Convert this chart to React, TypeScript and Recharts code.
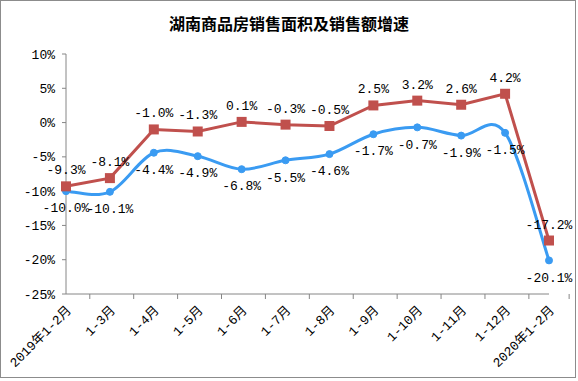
import React from "react";
import { LabelList, Line, LineChart, XAxis, YAxis } from "recharts";

const months = [
  "2019年1-2月",
  "1-3月",
  "1-4月",
  "1-5月",
  "1-6月",
  "1-7月",
  "1-8月",
  "1-9月",
  "1-10月",
  "1-11月",
  "1-12月",
  "2020年1-2月",
];
const areaGrowth = [-10.0, -10.1, -4.4, -4.9, -6.8, -5.5, -4.6, -1.7, -0.7, -1.9, -1.5, -20.1];
const salesGrowth = [-9.3, -8.1, -1.0, -1.3, 0.1, -0.3, -0.5, 2.5, 3.2, 2.6, 4.2, -17.2];
const yTicks = [10, 5, 0, -5, -10, -15, -20, -25];

const data = months.map((month, i) => ({
  month,
  area: areaGrowth[i],
  sales: salesGrowth[i],
}));

const W = 578;
const H = 381;
const M = { top: 54, right: 29, bottom: 8, left: 0 };
const Y_W = 66;
const BAND = (W - M.left - M.right - Y_W) / months.length;
const MONO = '"Liberation Mono", "Noto Sans CJK SC", monospace';
const AXIS = "#868686";

// excel-ish smoothing (catmull-rom through the points)
const smooth = (ctx: any) => {
  let pts: number[][] = [];
  return {
    areaStart() {},
    areaEnd() {},
    lineStart() {
      pts = [];
    },
    point(x: number, y: number) {
      pts.push([x, y]);
    },
    lineEnd() {
      if (!pts.length) return;
      ctx.moveTo(pts[0][0], pts[0][1]);
      for (let i = 0; i < pts.length - 1; i++) {
        const p0 = pts[i - 1] || pts[i];
        const p1 = pts[i];
        const p2 = pts[i + 1];
        const p3 = pts[i + 2] || p2;
        ctx.bezierCurveTo(
          p1[0] + (p2[0] - p0[0]) / 6,
          p1[1] + (p2[1] - p0[1]) / 6,
          p2[0] - (p3[0] - p1[0]) / 6,
          p2[1] - (p3[1] - p1[1]) / 6,
          p2[0],
          p2[1]
        );
      }
    },
  };
};

function MonthTick(props: any) {
  const { x, y, payload, index } = props;
  const left = x - BAND / 2;
  const ax = x + 6;
  const ay = y + 12;
  return (
    <g>
      <line x1={left} y1={y - 5} x2={left} y2={y} stroke={AXIS} />
      {index === months.length - 1 && (
        <line x1={left + BAND} y1={y - 5} x2={left + BAND} y2={y} stroke={AXIS} />
      )}
      <text
        x={ax}
        y={ay}
        textAnchor="end"
        transform={`rotate(-45, ${ax}, ${ay})`}
        fontSize={13}
        fontFamily={MONO}
        fill="#000"
      >
        {payload.value}
      </text>
    </g>
  );
}

function Square(props: any) {
  const { cx, cy } = props;
  if (cx == null || cy == null) return null;
  return <rect x={cx - 5} y={cy - 5} width={10} height={10} fill="#C0504D" />;
}

export default function App() {
  return (
    <div style={{ position: "absolute", left: 0, top: 0, width: W, height: H, background: "#fff" }}>
      <div
        style={{
          position: "absolute",
          left: 0,
          top: 0,
          width: 576,
          height: 378,
          border: "1px solid #8c8c8c",
          boxSizing: "border-box",
        }}
      />
      <div
        style={{
          position: "absolute",
          left: 0,
          top: 11,
          width: W,
          textAlign: "center",
          fontFamily: '"Noto Sans CJK SC", sans-serif',
          fontWeight: 700,
          fontSize: 16,
          color: "#000",
        }}
      >
        湖南商品房销售面积及销售额增速
      </div>
      <div style={{ position: "absolute", left: 0, top: 0 }}>
        <LineChart width={W} height={H} data={data} margin={M}>
          <XAxis
            dataKey="month"
            interval={0}
            height={H - M.top - M.bottom - 240}
            axisLine={{ stroke: AXIS }}
            tickLine={false}
            tickSize={5}
            tickMargin={0}
            tick={<MonthTick />}
          />
          <YAxis
            width={Y_W}
            domain={[-25, 10]}
            ticks={yTicks}
            interval={0}
            axisLine={{ stroke: AXIS }}
            tickLine={{ stroke: AXIS }}
            tickSize={4}
            tickMargin={7}
            tickFormatter={(v) => `${v}%`}
            tick={{ fill: "#000", fontSize: 13, fontFamily: MONO }}
          />
          <Line
            dataKey="area"
            type={smooth as any}
            stroke="#3A9BF2"
            strokeWidth={3}
            dot={{ r: 3.5, fill: "#3A9BF2", stroke: "#3A9BF2", strokeWidth: 1 }}
            isAnimationActive={false}
          >
            <LabelList
              dataKey="area"
              position="bottom"
              offset={12}
              formatter={(v: any) => `${Number(v).toFixed(1)}%`}
              style={{ fill: "#000", fontSize: 13, fontFamily: MONO }}
            />
          </Line>
          <Line
            dataKey="sales"
            type="linear"
            stroke="#C0504D"
            strokeWidth={3}
            dot={<Square />}
            isAnimationActive={false}
          >
            <LabelList
              dataKey="sales"
              position="top"
              offset={12}
              formatter={(v: any) => `${Number(v).toFixed(1)}%`}
              style={{ fill: "#000", fontSize: 13, fontFamily: MONO }}
            />
          </Line>
        </LineChart>
      </div>
    </div>
  );
}
